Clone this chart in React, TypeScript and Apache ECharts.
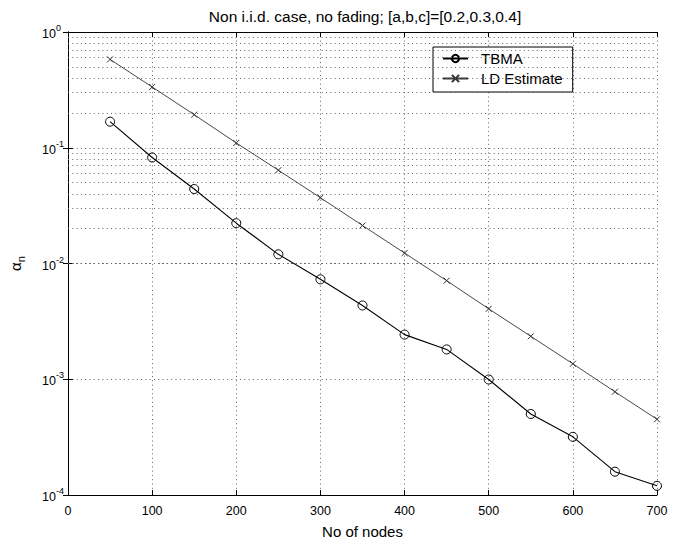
import React, { useEffect, useRef } from "react";
import * as echarts from "echarts";

const nodes = [50, 100, 150, 200, 250, 300, 350, 400, 450, 500, 550, 600, 650, 700];
const tbma = [0.168, 0.0824, 0.044, 0.0223, 0.012, 0.0073, 0.00434, 0.00243, 0.00181, 0.000995, 0.000501, 0.000318, 0.000159, 0.00012];
const ldEstimate = [0.58, 0.335, 0.193, 0.11, 0.064, 0.037, 0.0213, 0.0123, 0.00711, 0.00406, 0.00235, 0.00136, 0.00078, 0.000451];
const decades = [1e-4, 1e-3, 1e-2, 1e-1];
const minorSteps = [2, 3, 4, 5, 6, 7, 8, 9];
const xTicks = [0, 100, 200, 300, 400, 500, 600, 700];

const FONT = "Liberation Sans, Arial, Helvetica, sans-serif";
const DOT: number[] = [1, 3.3];

export default function App() {
  const ref = useRef<HTMLDivElement>(null);
  useEffect(() => {
    if (!ref.current) return;
    const chart = echarts.init(ref.current, undefined, { renderer: "svg" });
    const minorLines: { yAxis: number }[] = [];
    decades.forEach((d) => minorSteps.forEach((k) => minorLines.push({ yAxis: +(k * d).toPrecision(3) })));
    const axisCommon = {
      axisLine: { show: true, lineStyle: { color: "#000", width: 1 } },
      axisTick: { show: true, inside: true, length: 5, lineStyle: { color: "#000" } },
    };
    chart.setOption({
      animation: false,
      backgroundColor: "#fff",
      textStyle: { fontFamily: FONT, color: "#000" },
      title: {
        text: "Non i.i.d. case, no fading; [a,b,c]=[0.2,0.3,0.4]",
        left: 360,
        textAlign: "center",
        top: 3,
        textStyle: { fontSize: 15.5, fontWeight: "normal", color: "#000", fontFamily: FONT },
      },
      legend: {
        left: 433,
        top: 47,
        orient: "vertical",
        backgroundColor: "#fff",
        borderColor: "#000",
        borderWidth: 1,
        borderRadius: 0,
        padding: [4, 10, 6, 9],
        itemGap: 5,
        itemWidth: 25,
        itemHeight: 9,
        textStyle: { fontSize: 15, color: "#000", fontFamily: FONT, padding: [0, 0, 0, 8] },
        data: ["TBMA", "LD Estimate"],
      },
      grid: { left: 62, top: 32, right: 23, bottom: 47, containLabel: false },
      xAxis: [
        {
          type: "value",
          min: 0,
          max: 700,
          interval: 100,
          name: "No of nodes",
          nameLocation: "middle",
          nameGap: 29,
          nameTextStyle: { fontSize: 15, color: "#000", fontFamily: FONT },
          ...axisCommon,
          axisLabel: { fontSize: 12.5, color: "#000", margin: 9, fontFamily: FONT, formatter: (v: number) => (xTicks.includes(v) ? String(v) : "") },
          splitLine: { show: true, lineStyle: { type: DOT, color: "#666", width: 1 } },
        },
        {
          type: "value",
          position: "top",
          min: 0,
          max: 700,
          interval: 100,
          ...axisCommon,
          axisLabel: { show: false },
          splitLine: { show: false },
        },
      ],
      yAxis: [
        {
          type: "log",
          logBase: 10,
          min: 1e-4,
          max: 1,
          name: "{a|α}{n|n}",
          nameLocation: "middle",
          nameRotate: 90,
          nameGap: 42,
          nameTextStyle: {
            rich: {
              a: { fontSize: 15, fontFamily: FONT, color: "#000", verticalAlign: "top", lineHeight: 18 },
              n: { fontSize: 11, fontFamily: FONT, color: "#000", verticalAlign: "bottom", lineHeight: 18 },
            },
          },
          ...axisCommon,
          axisLabel: {
            align: "left",
            margin: 26,
            formatter: (v: number) => `{b|10}{s|${Math.round(Math.log10(v))}}`,
            rich: {
              b: { fontSize: 12.5, fontFamily: FONT, color: "#000", verticalAlign: "bottom", lineHeight: 17 },
              s: { fontSize: 9, fontFamily: FONT, color: "#000", verticalAlign: "top", lineHeight: 17 },
            },
          },
          splitLine: { show: true, lineStyle: { type: DOT, color: "#666", width: 1 } },
        },
        {
          type: "log",
          logBase: 10,
          min: 1e-4,
          max: 1,
          position: "right",
          ...axisCommon,
          axisLabel: { show: false },
          splitLine: { show: false },
        },
      ],
      series: [
        {
          name: "TBMA",
          type: "line",
          xAxisIndex: 0,
          yAxisIndex: 0,
          data: nodes.map((x, i) => [x, tbma[i]]),
          symbol: "circle",
          symbolSize: 9,
          showAllSymbol: true,
          lineStyle: { color: "#000", width: 1.1 },
          itemStyle: { color: "rgba(255,255,255,0)", borderColor: "#000", borderWidth: 1 },
          z: 5,
        },
        {
          name: "LD Estimate",
          type: "line",
          xAxisIndex: 0,
          yAxisIndex: 0,
          data: nodes.map((x, i) => [x, ldEstimate[i]]),
          symbol: "path://M0 0L10 10M10 0L0 10",
          symbolSize: 6,
          showAllSymbol: true,
          lineStyle: { color: "#333", width: 0.9 },
          itemStyle: { color: "rgba(255,255,255,0)", borderColor: "#333", borderWidth: 1 },
          z: 5,
        },
        {
          name: "minor-grid",
          type: "line",
          xAxisIndex: 0,
          yAxisIndex: 0,
          data: [],
          silent: true,
          markLine: {
            silent: true,
            symbol: ["none", "none"],
            label: { show: false },
            lineStyle: { type: DOT, color: "#666", width: 1 },
            data: minorLines,
          },
        },
      ],
    });
    return () => chart.dispose();
  }, []);
  return <div ref={ref} style={{ position: "fixed", left: 0, top: 0, width: 680, height: 544 }} />;
}
